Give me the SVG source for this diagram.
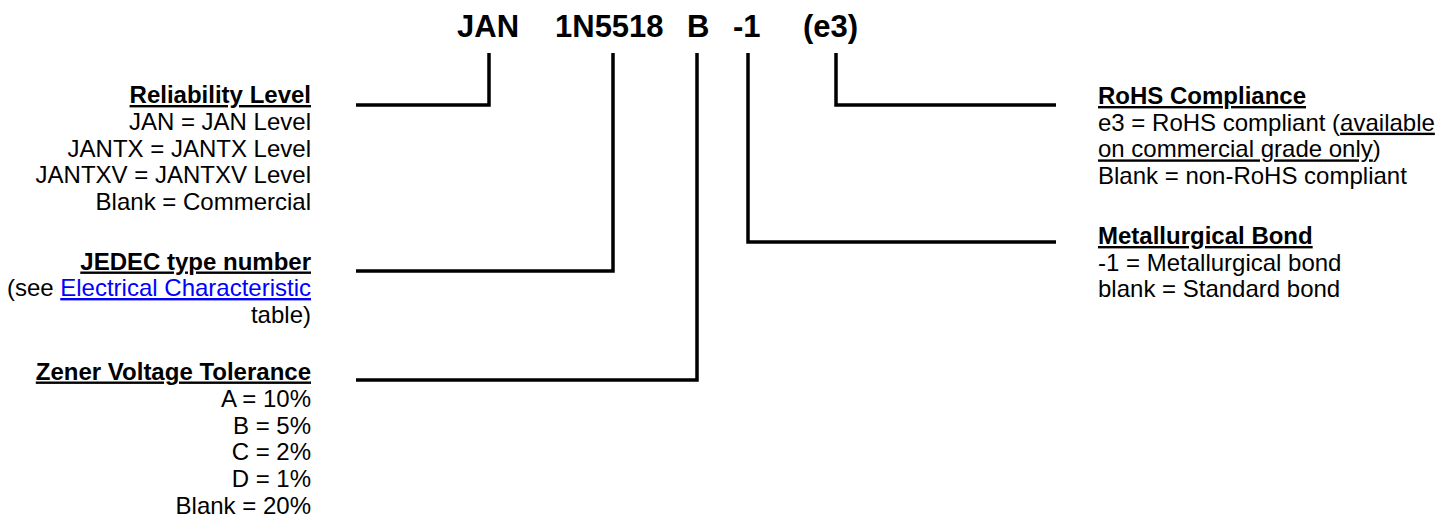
<svg xmlns="http://www.w3.org/2000/svg" width="1450" height="520" viewBox="0 0 1450 520">
<style>
.t{font-family:"Liberation Sans",Arial,sans-serif;font-size:24px;fill:#000}
.r{text-anchor:end}
.h{font-weight:bold;text-decoration:underline}
.u{text-decoration:underline}
.lk{fill:#0000ff;text-decoration:underline}
.ttl{font-family:"Liberation Sans",Arial,sans-serif;font-size:31px;font-weight:bold;fill:#000}
.ln{fill:none;stroke:#000;stroke-width:3.5;stroke-linejoin:miter;stroke-linecap:butt}
</style>
<rect width="1450" height="520" fill="#fff"/>
<g id="title">
<text class="ttl" y="37"><tspan x="457">JAN</tspan><tspan x="555">1N5518</tspan><tspan x="687">B</tspan><tspan x="733">-1</tspan><tspan x="803">(e3)</tspan></text>
</g>
<g id="connectors">
<path class="ln" d="M489 53 V105 H356"/>
<path class="ln" d="M613 53 V271 H356"/>
<path class="ln" d="M697 53 V380 H356"/>
<path class="ln" d="M748 53 V242 H1056"/>
<path class="ln" d="M836 53 V105 H1056"/>
</g>
<g id="reliability">
<text class="t r h" x="311" y="103">Reliability Level</text>
<text class="t r" x="311" y="130">JAN = JAN Level</text>
<text class="t r" x="311" y="156.7">JANTX = JANTX Level</text>
<text class="t r" x="311" y="183.4">JANTXV = JANTXV Level</text>
<text class="t r" x="311" y="210">Blank = Commercial</text>
</g>
<g id="jedec">
<text class="t r h" x="311" y="269.5">JEDEC type number</text>
<text class="t r" x="311" y="296">(see <tspan class="lk">Electrical Characteristic</tspan></text>
<text class="t r" x="311" y="322.7">table)</text>
</g>
<g id="zener">
<text class="t r h" x="311" y="379.5">Zener Voltage Tolerance</text>
<text class="t r" x="311" y="407">A = 10%</text>
<text class="t r" x="311" y="433.7">B = 5%</text>
<text class="t r" x="311" y="460.4">C = 2%</text>
<text class="t r" x="311" y="487">D = 1%</text>
<text class="t r" x="311" y="513.7">Blank = 20%</text>
</g>
<g id="rohs">
<text class="t h" x="1098" y="104">RoHS Compliance</text>
<text class="t" x="1098" y="130.7">e3 = RoHS compliant (<tspan class="u">available</tspan></text>
<text class="t" x="1098" y="157.4"><tspan class="u">on commercial grade only</tspan>)</text>
<text class="t" x="1098" y="184">Blank = non-RoHS compliant</text>
</g>
<g id="metallurgical">
<text class="t h" x="1098" y="244">Metallurgical Bond</text>
<text class="t" x="1098" y="270.7">-1 = Metallurgical bond</text>
<text class="t" x="1098" y="297.4">blank = Standard bond</text>
</g>
</svg>
